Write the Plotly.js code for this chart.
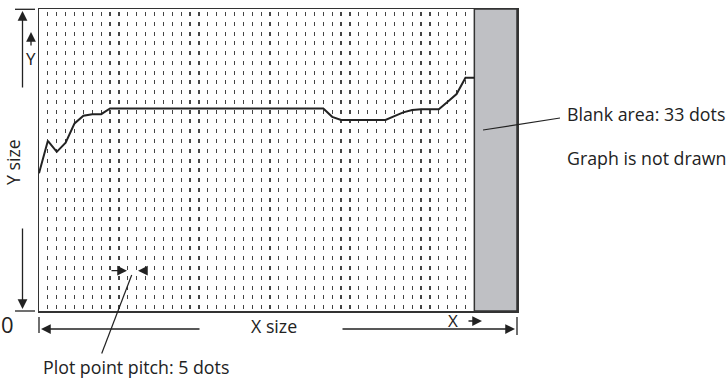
<!DOCTYPE html>
<html>
<head>
<meta charset="utf-8">
<script src="https://cdn.plot.ly/plotly-3.0.1.min.js"></script>
<style>html,body{margin:0;padding:0;background:#fff;}#chart{width:727px;height:379px;}</style>
</head>
<body>
<div id="chart"></div>
<script>
// ---- data (dots) ----
const xs = [0,5,10,15,20,25,30,35,40,45,50,55,60,65,70,75,80,85,90,95,100,105,110,115,120,125,130,135,140,145,150,155,160,165,170,175,180,185,190,195,200,205,210,215,220,225,230,235,240,245];
const ys = [77.5,95.8,89.6,94.7,105.6,109.9,110.7,110.8,114.0,114.0,114.0,114.0,114.0,114.0,114.0,114.0,114.0,114.0,114.0,114.0,114.0,114.0,114.0,114.0,114.0,114.0,114.0,114.0,114.0,114.0,114.0,114.0,114.0,109.3,107.5,107.5,107.5,107.5,107.5,107.5,109.7,111.8,113.1,113.6,113.6,113.6,117.8,122.1,131.3,131.3];
const xMax = 269;        // X size (dots, axis extent)
const yMax = 170;        // Y size (dots)
const blankStart = 245;  // start of the blank area
const labels = {
  ysize: "Y size", y: "Y", zero: "0", xsize: "X size", x: "X",
  pitch: "Plot point pitch: 5 dots", blank: "Blank area: 33 dots", notDrawn: "Graph is not drawn"
};

// ---- layout helpers (pixel -> paper) ----
const L = 39, R = 517, T = 9, B = 311;
const px = x => (x - L) / (R - L);
const py = y => (B - y) / (B - T);
const INK = '#222';
const FONT = {family: 'Open Sans, Noto Sans, sans-serif', size: 17.8, color: INK};
const sized = s => Object.assign({}, FONT, {size: s});

function txt(x, y, s, opt) {
  return Object.assign({xref: 'paper', yref: 'paper', x: px(x), y: py(y), text: s, showarrow: false,
    font: FONT, xanchor: 'center', yanchor: 'middle'}, opt || {});
}
function arrow(tx, ty, fx, fy) {
  return {xref: 'paper', yref: 'paper', x: px(tx), y: py(ty), axref: 'pixel', ayref: 'pixel',
    ax: fx - tx, ay: fy - ty, text: '', font: {size: 1}, borderpad: 0, showarrow: true,
    arrowhead: 2, arrowsize: 1.5, arrowwidth: 1.3, arrowcolor: INK, standoff: 0, startstandoff: 0};
}
function seg(x0, y0, x1, y1, w) {
  return {type: 'line', xref: 'paper', yref: 'paper', x0: px(x0), y0: py(y0), x1: px(x1), y1: py(y1),
    line: {color: INK, width: w || 1.3}};
}

const data = [{
  type: 'scatter', mode: 'lines', x: xs, y: ys,
  line: {color: INK, width: 2}, hoverinfo: 'skip', cliponaxis: false
}];

const layout = {
  width: 727, height: 379,
  margin: {l: L, r: 727 - R, t: T, b: 379 - B, pad: 0},
  paper_bgcolor: '#fff', plot_bgcolor: '#fff',
  showlegend: false,
  xaxis: {
    range: [0, xMax], tickmode: 'array', tickvals: xs.slice(1, -1),
    showticklabels: false, ticks: '', showgrid: true, gridcolor: '#444', gridwidth: 1.2,
    griddash: '0px,3px,4px,2.77px', zeroline: false,
    showline: true, mirror: true, linecolor: '#333', linewidth: 1.5
  },
  yaxis: {
    range: [0, yMax], showticklabels: false, ticks: '', showgrid: false, zeroline: false,
    showline: true, mirror: true, linecolor: '#333', linewidth: 1.5
  },
  shapes: [
    {type: 'rect', xref: 'x', yref: 'paper', x0: blankStart, x1: xMax, y0: 0, y1: 1,
     fillcolor: '#bfc0c4', line: {color: '#333', width: 1.5}, layer: 'below'},
    // Y size end ticks
    seg(15, 9.3, 35, 9.3), seg(15, 311, 35, 311),
    // X size end ticks
    seg(39, 317, 39, 333), seg(517, 317, 517, 335),
    // pitch leader
    seg(101.7, 353.5, 131.7, 275, 1.2),
    // blank area leader
    seg(483, 130, 560, 118, 1.2)
  ],
  annotations: [
    arrow(22.5, 11, 22.5, 88),
    arrow(22.5, 309, 22.5, 228),
    arrow(31, 32, 31, 46),
    arrow(41, 329, 200, 329),
    arrow(515, 329, 342, 329),
    arrow(482, 321, 468, 321),
    arrow(127, 270.7, 111, 270.7),
    arrow(138, 270.7, 147, 270.7),
    txt(13, 162, labels.ysize, {textangle: -90}),
    txt(31, 58, labels.y, {font: sized(17)}),
    txt(7, 324, labels.zero, {font: sized(22)}),
    txt(274, 326, labels.xsize),
    txt(453, 320, labels.x, {font: sized(17)}),
    txt(41, 366.5, labels.pitch, {xanchor: 'left'}),
    txt(565, 114, labels.blank, {xanchor: 'left'}),
    txt(565, 158, labels.notDrawn, {xanchor: 'left'})
  ]
};

Plotly.newPlot('chart', data, layout, {staticPlot: true, displayModeBar: false});
</script>
</body>
</html>
